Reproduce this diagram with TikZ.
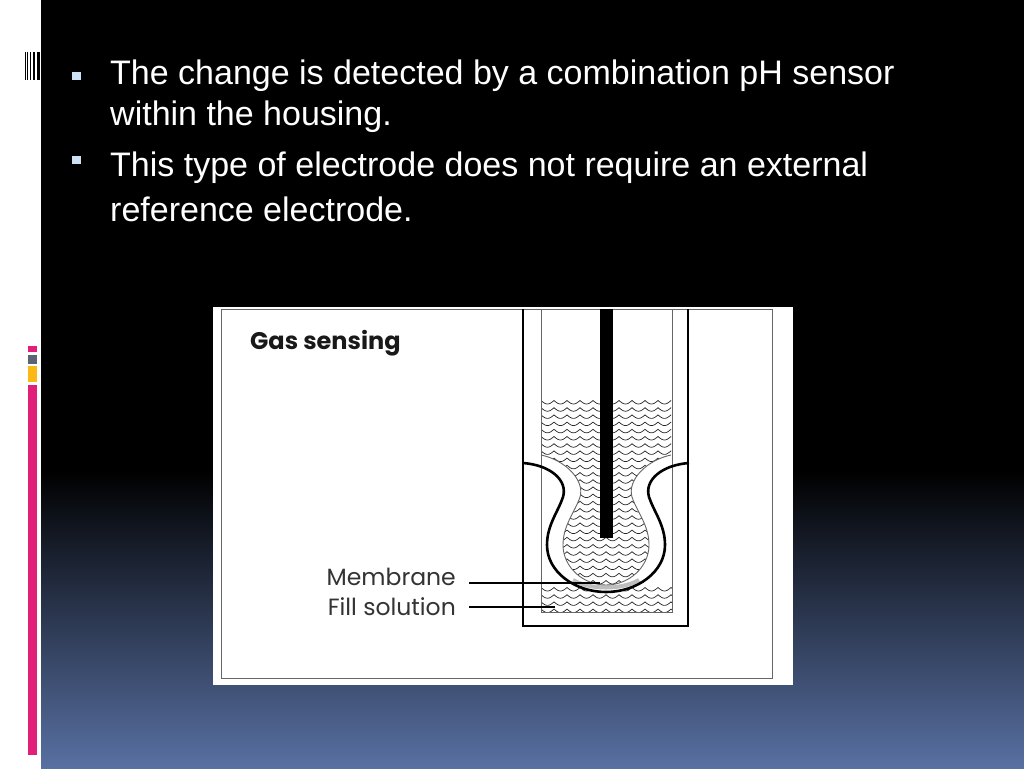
\documentclass[tikz,border=0pt]{standalone}
\usepackage{fontspec}
\setmainfont{Liberation Sans}
\newfontfamily\panelfont{Poppins}
\definecolor{bgblue}{RGB}{88,112,162}
\definecolor{pinkbar}{RGB}{225,30,120}
\definecolor{graybar}{RGB}{90,100,115}
\definecolor{yellowbar}{RGB}{250,185,20}
\definecolor{bullet}{RGB}{205,225,245}
\definecolor{membr}{RGB}{190,190,190}
\tikzset{
  bodytext/.style={anchor=west,text=white,inner sep=0pt,font=\fontsize{34}{40}\selectfont},
  labeltext/.style={anchor=east,text=black!80,inner sep=0pt,font=\panelfont\fontsize{23.5}{26}\selectfont},
  wave/.style={draw=black!85,line width=0.7pt},
  thickline/.style={line width=2.6pt,line join=miter},
  thinline/.style={draw=black!60,line width=0.9pt}
}
\begin{document}
\begin{tikzpicture}[x=1pt,y=-1pt]
\useasboundingbox (0,0) rectangle (1024,768);
% background
\fill[black] (41,0) rectangle (1024,768);
\shade[top color=black,bottom color=bgblue] (41,470) rectangle (1024,768);
\fill[white] (0,0) rectangle (41,768);
% left decorations
\foreach \x/\w in {24.5/1, 27/1.2, 30/1.2, 33/1.5, 36.5/3} \fill[black] (\x,52) rectangle (\x+\w,80);
\fill[pinkbar] (28,346) rectangle (37,352);
\fill[graybar] (28,355) rectangle (37,364);
\fill[yellowbar] (28,366) rectangle (37,382);
\fill[pinkbar] (28,385) rectangle (37,755);
% bullets
\fill[bullet] (72,72) rectangle (81,80);
\fill[bullet] (72,156) rectangle (81,164);
\node[bodytext] (t1) at (110,76) {The change is detected by a combination pH sensor};
\node[bodytext] (t2) at (110,117) {within the housing.};
\node[bodytext] (t3) at (110,168) {This type of electrode does not require an external};
\node[bodytext] (t4) at (110,209) {reference electrode.};
% panel
\fill[white] (213,307) rectangle (793,685);
\draw[black!60,line width=1pt] (221,309) -- (221,678) -- (772,678) -- (772,309) -- cycle;
\node[anchor=west,inner sep=0pt,text=black!90,font=\panelfont\bfseries\fontsize{24}{27}\selectfont] (title) at (250,343) {Gas sensing};
% waves upper + bulb interior
\begin{scope}
\clip (541,398) -- (541,455) .. controls (565,460) and (585,480) .. (580,497) .. controls (575,512) and (563,525) .. (563,545) .. controls (563,567) and (583,585) .. (606,585) .. controls (629,585) and (649,567) .. (649,545) .. controls (649,525) and (637,512) .. (632,497) .. controls (627,480) and (647,460) .. (671,455) -- (671,398) -- cycle;
\foreach \r in {0,...,26} {
  \draw[wave] plot[domain=0:132,samples=133] ({541+\x},{404+\r*7.2-3.5*(1-abs(sin(\x/13*180)))});
}
\end{scope}
% waves bottom
\begin{scope}
\clip (541,585) rectangle (672,612);
\foreach \r in {0,...,3} {
  \draw[wave] plot[domain=0:132,samples=133] ({541+\x},{591+\r*7.2-3.5*(1-abs(sin(\x/13*180)))});
}
\end{scope}
% glass of bulb
\fill[white] (523,463) .. controls (550,465) and (568,480) .. (563,497) .. controls (558,512) and (547,525) .. (547,545) .. controls (547,572) and (575,592) .. (606,592) .. controls (637,592) and (665,572) .. (665,545) .. controls (665,525) and (654,512) .. (649,497) .. controls (644,480) and (662,465) .. (689,463)
 -- (671,455) .. controls (647,460) and (627,480) .. (632,497) .. controls (637,512) and (649,525) .. (649,545) .. controls (649,567) and (629,585) .. (606,585) .. controls (583,585) and (563,567) .. (563,545) .. controls (563,525) and (575,512) .. (580,497) .. controls (585,480) and (565,460) .. (541,455) -- cycle;
% membrane
\draw[membr,line width=4pt] (573,580) .. controls (590,590) and (622,590) .. (639,580);
% tube
\draw[thinline] (541,310) -- (541,612) -- (672,612) -- (672,310);
% bulb curves
\draw[thickline] (523,463) .. controls (550,465) and (568,480) .. (563,497) .. controls (558,512) and (547,525) .. (547,545) .. controls (547,572) and (575,592) .. (606,592) .. controls (637,592) and (665,572) .. (665,545) .. controls (665,525) and (654,512) .. (649,497) .. controls (644,480) and (662,465) .. (689,463);
\draw[thinline] (541,455) .. controls (565,460) and (585,480) .. (580,497) .. controls (575,512) and (563,525) .. (563,545) .. controls (563,567) and (583,585) .. (606,585) .. controls (629,585) and (649,567) .. (649,545) .. controls (649,525) and (637,512) .. (632,497) .. controls (627,480) and (647,460) .. (671,455);
% housing
\draw[thickline] (523,309) -- (523,626) -- (688,626) -- (688,309);
% rod
\fill[black] (600,309) rectangle (613,538);
% labels
\node[labeltext] (mem) at (456,577) {Membrane};
\node[labeltext] (fill) at (456,607) {Fill solution};
\coordinate (memend) at (600,583);
\coordinate (fillend) at (555,607);
\draw[line width=1.3pt] ([xshift=13pt,yshift=-6pt]mem.east) -- (memend);
\draw[line width=1.3pt] ([xshift=13pt]fill.east) -- (fillend);
\end{tikzpicture}
\end{document}
